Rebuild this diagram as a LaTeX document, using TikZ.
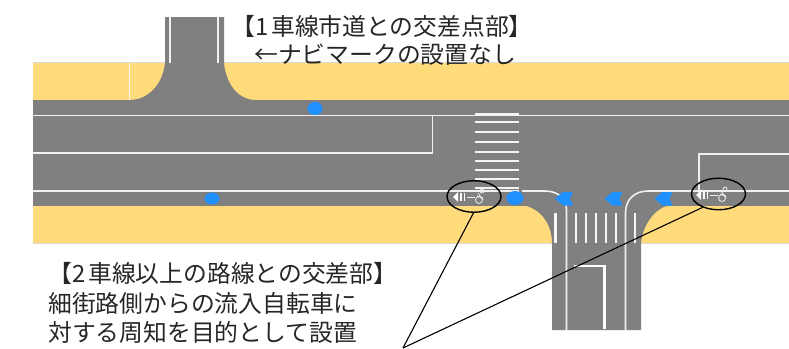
\documentclass[tikz,border=0pt]{standalone}
\usepackage{fontspec}
\setmainfont{Noto Sans CJK JP}
\usetikzlibrary{shapes.geometric}
\definecolor{roadgray}{HTML}{808080}
\definecolor{walkyellow}{HTML}{FFDB7C}
\definecolor{naviblue}{HTML}{1E90FF}
\definecolor{edgegray}{HTML}{D8D8D8}
\tikzset{
  lane/.style={draw=white!88!gray,line width=1.6pt},
  stripe/.style={draw=white!92!gray,line width=2.4pt},
  note/.style={font=\fontsize{23.8}{28}\selectfont,text=black!85,inner sep=0pt,anchor=west},
  ring/.style={draw=black,line width=1.4pt,ellipse,minimum width=54pt,minimum height=31.5pt,inner sep=0pt},
  leader/.style={draw=black,line width=1.1pt},
  chevron/.style={fill=naviblue,draw=none},
  pict/.style={draw=white!85!gray,line width=.8pt}
}
\begin{document}
\begin{tikzpicture}[x=1pt,y=-1pt]
\useasboundingbox (0,0) rectangle (789,348);
% sidewalks
\fill[walkyellow] (33,63) rectangle (789,100);
\fill[walkyellow] (33,206) rectangle (789,243);
\draw[edgegray,line width=.8pt] (33,62.6) -- (165,62.6) (224,62.6) -- (789,62.6);
\draw[edgegray,line width=.8pt] (33,243.2) -- (552,243.2) (641,243.2) -- (789,243.2);
\draw[white!85!walkyellow,line width=.6pt] (129,63) -- (129,100);
% roads
\fill[roadgray] (33,100) rectangle (789,206);
\fill[roadgray] (165,17) -- (224,17) -- (224,63) .. controls (226,84) and (238,100) .. (256,100) -- (130,100) .. controls (148,100) and (163,84) .. (165,63) -- cycle;
\fill[roadgray] (520,205) .. controls (538,206) and (552,222) .. (552,243) -- (552,330) -- (641,330) -- (641,243) .. controls (643,224) and (655,208) .. (670,205) -- cycle;
% side road edge lines
\draw[lane,line width=1.3pt] (170,17) -- (170,63);
\draw[lane,line width=1.3pt] (218,17) -- (218,63);
% main road lines
\draw[lane] (33,115.5) -- (789,115.5);
\draw[lane] (33,153) -- (432.5,153) -- (432.5,115.5);
\draw[lane] (33,191) -- (519,191);
\draw[lane] (522,191) -- (545,191) .. controls (556,191) and (566.5,197) .. (566.5,210) -- (566.5,330);
\draw[lane] (625.5,330) -- (625.5,213) .. controls (625.5,200) and (634,191) .. (648,191) -- (789,191);
\draw[lane] (699,191) -- (699,154) -- (789,154);
\draw[draw=white,line width=2.4pt] (574,266) -- (604.5,266) -- (604.5,329);
% crosswalks
\foreach \yy in {114,122,132,142,152,161,170,179,188}
  \draw[stripe] (475,\yy) -- (519,\yy);
\foreach \xx in {555.5,575.7,585.8,595.7,605.7,615.7,635}
  \draw[stripe] (\xx,213) -- (\xx,243);
% blue marks
\fill[naviblue] (315,108.5) ellipse (7.5 and 6.5);
\fill[naviblue] (212,198.5) ellipse (7.5 and 6);
\fill[naviblue] (515,198) ellipse (8.5 and 7);
\foreach \xx in {564,613.5,663.5}
  \fill[chevron] (\xx-9,198.5) -- (\xx-1,192) -- (\xx+9,192) -- (\xx+6,198.5) -- (\xx+9,205.5) -- (\xx-1,205.5) -- cycle;
% pictograms
\foreach \px/\py in {453/197,696/195}{
  \fill[white] (\px,\py) -- (\px+5,\py-5) -- (\px+5,\py+5) -- cycle;
  \fill[white] (\px+7,\py-4) rectangle (\px+8.5,\py+4);
  \fill[white] (\px+10.5,\py-4) rectangle (\px+12,\py+4);
  \draw[pict] (\px+14,\py) -- (\px+22,\py);
  \draw[pict] (\px+26,\py+3) circle (3.5);
  \draw[pict] (\px+24,\py-1) -- (\px+30,\py+1) (\px+25,\py-4) -- (\px+30,\py+3);
  \draw[pict] (\px+29,\py-6) circle (2);
}
% ellipses and leaders
\node[ring] (r1) at (474,196.5) {};
\node[ring] (r2) at (718.5,194) {};
\coordinate (apex) at (403,348);
\draw[leader] (r1.-92) -- (apex);
\draw[leader] (r2.-140) -- (apex);
% texts
\node[note] (t1) at (231,26) {【1\kern3pt 車線市道との交差点部】};
\node[note] (t2) at (254,55) {←ナビマークの設置なし};
\node[note] (t3) at (48,273) {【2\kern3pt 車線以上の路線との交差部】};
\node[note] (t4) at (48,303) {細街路側からの流入自転車に};
\node[note] (t5) at (48,332) {対する周知を目的として設置};
\end{tikzpicture}
\end{document}
